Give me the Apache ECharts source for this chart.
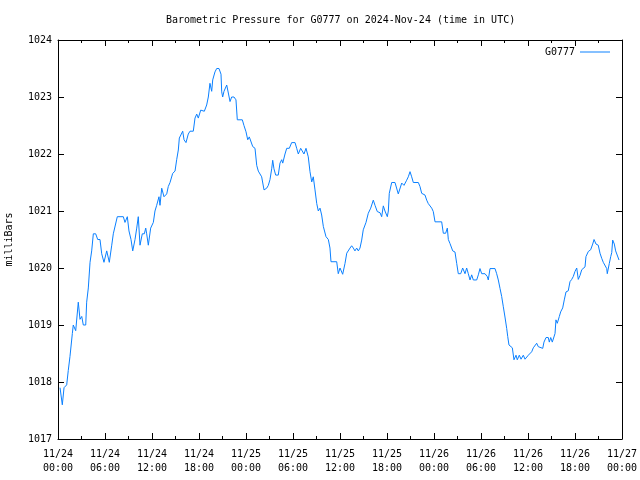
<!DOCTYPE html>
<html>
<head>
<meta charset="utf-8">
<script src="https://cdn.jsdelivr.net/npm/echarts@6/dist/echarts.min.js"></script>
<style>html,body{margin:0;padding:0;background:#fff}#c{width:640px;height:480px}</style>
</head>
<body>
<div id="c"></div>
<script>
const chartTitle = 'Barometric Pressure for G0777 on 2024-Nov-24 (time in UTC)';
const seriesName = 'G0777';
const yAxisName = 'milliBars';
const xTickLabels = ['11/24\n00:00','11/24\n06:00','11/24\n12:00','11/24\n18:00','11/25\n00:00','11/25\n06:00','11/25\n12:00','11/25\n18:00','11/26\n00:00','11/26\n06:00','11/26\n12:00','11/26\n18:00','11/27\n00:00'];
// hours since 2024-11-24 00:00 UTC
const hours = [0.26,0.55,0.77,1.11,1.31,1.53,1.83,1.95,2.26,2.59,2.81,3.03,3.23,3.54,3.66,3.87,4.09,4.30,4.51,4.81,5.07,5.36,5.58,5.87,6.22,6.55,6.86,7.06,7.28,7.57,8.34,8.55,8.85,9.06,9.32,9.54,9.83,10.05,10.25,10.47,10.76,11.02,11.20,11.32,11.53,11.83,12.17,12.38,12.60,12.89,13.02,13.24,13.53,13.88,14.08,14.30,14.64,14.94,15.15,15.36,15.49,15.66,15.92,16.09,16.34,16.63,16.85,17.27,17.49,17.71,17.91,18.22,18.42,18.68,18.98,19.19,19.40,19.62,19.75,20.04,20.26,20.55,20.81,20.90,21.02,21.19,21.54,21.74,21.96,22.17,22.47,22.72,22.89,23.53,23.74,24.00,24.22,24.42,24.60,24.86,25.15,25.37,25.57,25.79,26.00,26.21,26.30,26.43,26.64,26.85,27.06,27.28,27.41,27.57,27.79,28.12,28.34,28.56,28.69,28.98,29.20,29.53,29.83,30.26,30.47,30.68,30.98,31.19,31.40,31.66,31.95,32.17,32.39,32.59,32.81,33.03,33.23,33.45,33.66,33.87,34.21,34.51,34.72,34.85,35.58,35.78,36.00,36.22,36.34,36.64,36.86,37.06,37.28,37.49,37.70,37.91,38.13,38.34,38.55,38.77,38.97,39.32,39.61,39.92,40.25,40.47,40.76,41.11,41.32,41.53,41.74,42.04,42.17,42.29,42.60,43.02,43.24,43.44,43.66,43.88,44.17,44.51,44.72,44.94,45.15,45.36,46.00,46.21,46.43,46.85,47.07,47.27,47.49,47.71,47.91,48.13,48.98,49.19,49.49,49.70,49.83,50.04,50.39,50.68,50.90,51.10,51.41,51.66,51.96,52.17,52.38,52.60,52.81,53.02,53.45,53.66,53.87,54.09,54.51,54.80,54.93,55.15,55.79,56.00,56.21,56.43,56.64,56.85,57.06,57.28,57.41,57.57,57.79,58.00,58.21,58.47,58.63,58.89,59.11,59.40,59.62,59.83,60.04,60.26,60.47,60.68,60.89,61.11,61.31,61.53,61.88,62.04,62.30,62.59,62.72,62.90,63.10,63.23,63.45,63.57,63.74,64.00,64.17,64.43,64.63,64.85,65.14,65.36,65.58,65.78,66.00,66.22,66.42,66.64,66.86,67.06,67.28,67.40,67.70,68.00,68.26,68.43,68.68,68.97,69.19,69.41,69.61,69.83,70.05,70.12,70.38,70.56,70.69,70.81,70.89,71.02,71.19,71.40,71.62];
const pressure = [1017.9,1017.6,1017.9,1017.95,1018.2,1018.45,1018.85,1019.0,1018.9,1019.4,1019.1,1019.15,1019.0,1019.0,1019.4,1019.65,1020.1,1020.3,1020.6,1020.6,1020.5,1020.5,1020.25,1020.1,1020.3,1020.1,1020.4,1020.6,1020.6,1020.9,1020.9,1020.8,1020.9,1020.65,1020.5,1020.3,1020.5,1020.7,1020.9,1020.4,1020.6,1020.6,1020.7,1020.6,1020.4,1020.7,1020.8,1021.0,1021.1,1021.25,1021.1,1021.4,1021.25,1021.3,1021.43,1021.5,1021.66,1021.7,1021.9,1022.07,1022.28,1022.25,1022.4,1022.25,1022.2,1022.35,1022.4,1022.4,1022.63,1022.7,1022.63,1022.77,1022.8,1022.75,1022.86,1023.0,1023.24,1023.1,1023.3,1023.44,1023.5,1023.5,1023.4,1023.09,1023.0,1023.1,1023.21,1023.21,1022.92,1023.0,1023.0,1022.95,1022.6,1022.6,1022.5,1022.39,1022.25,1022.3,1022.28,1022.13,1022.1,1021.8,1021.7,1021.7,1021.6,1021.6,1021.37,1021.34,1021.4,1021.45,1021.55,1021.74,1021.89,1021.74,1021.63,1021.63,1021.84,1021.9,1021.84,1022.0,1022.1,1022.1,1022.2,1022.2,1022.1,1022.0,1022.1,1022.1,1022.0,1022.1,1021.95,1021.69,1021.51,1021.6,1021.37,1021.13,1021.0,1021.05,1020.93,1020.73,1020.55,1020.5,1020.35,1020.11,1020.11,1019.9,1020.0,1019.97,1019.89,1020.08,1020.26,1020.25,1020.35,1020.39,1020.35,1020.3,1020.35,1020.3,1020.35,1020.49,1020.67,1020.8,1020.96,1021.05,1021.19,1021.1,1020.99,1020.97,1020.9,1021.09,1021.0,1020.9,1021.0,1021.31,1021.5,1021.5,1021.49,1021.3,1021.3,1021.49,1021.45,1021.54,1021.6,1021.69,1021.6,1021.5,1021.5,1021.43,1021.31,1021.28,1021.19,1021.13,1021.1,1021.05,1020.99,1020.81,1020.81,1020.61,1020.61,1020.7,1020.5,1020.43,1020.3,1020.28,1020.08,1019.9,1019.9,1020.0,1019.9,1020.0,1019.9,1019.79,1019.88,1019.79,1019.79,1019.88,1019.99,1019.9,1019.9,1019.85,1019.79,1019.99,1019.99,1019.9,1019.79,1019.64,1019.5,1019.32,1019.14,1018.94,1018.8,1018.65,1018.62,1018.6,1018.39,1018.47,1018.39,1018.47,1018.4,1018.47,1018.4,1018.4,1018.47,1018.45,1018.53,1018.6,1018.6,1018.68,1018.62,1018.59,1018.59,1018.7,1018.78,1018.78,1018.7,1018.78,1018.7,1018.68,1018.85,1019.09,1019.03,1019.15,1019.23,1019.3,1019.44,1019.58,1019.6,1019.76,1019.8,1019.85,1019.94,1020.0,1019.8,1019.87,1019.97,1020.0,1020.02,1020.2,1020.29,1020.32,1020.42,1020.5,1020.42,1020.4,1020.26,1020.17,1020.1,1020.08,1019.99,1019.9,1020.08,1020.2,1020.27,1020.49,1020.5,1020.42,1020.3,1020.29,1020.14];

const FONT = 'DejaVu Sans Mono';
const data = hours.map((h, i) => [h, pressure[i]]);
const chart = echarts.init(document.getElementById('c'), null, {renderer: 'canvas'});

const baseX = {
  type: 'value', min: 0, max: 72, interval: 6,
  axisLine: {show: true, onZero: false, lineStyle: {color: '#000', width: 1}},
  axisTick: {show: true, inside: true, length: 6, lineStyle: {color: '#000'}},
  minorTick: {show: true, splitNumber: 2, length: 3, lineStyle: {color: '#000'}},
  splitLine: {show: false}, minorSplitLine: {show: false}
};
const baseY = {
  type: 'value', min: 1017, max: 1024, interval: 1,
  axisLine: {show: true, onZero: false, lineStyle: {color: '#000', width: 1}},
  axisTick: {show: true, inside: true, length: 6, lineStyle: {color: '#000'}},
  splitLine: {show: false}
};

chart.setOption({
  animation: false,
  backgroundColor: '#fff',
  textStyle: {fontFamily: FONT},
  grid: {left: 58, right: 18, top: 40, bottom: 41, containLabel: false, outerBoundsMode: 'none'},
  graphic: [{
    type: 'text', left: 340 - chartTitle.length * 3, top: 15,
    style: {text: chartTitle, fill: '#000', font: '10px "' + FONT + '"'}
  }],
  legend: {
    show: true, right: 25, top: 42, align: 'right', itemWidth: 30, itemHeight: 10,
    itemGap: 6,
    textStyle: {fontFamily: FONT, fontSize: 10, color: '#000'},
    data: [{name: seriesName, icon: 'path://M0,5L30,5L30,6L0,6Z'}]
  },
  xAxis: [
    Object.assign({}, baseX, {
      position: 'bottom',
      axisLabel: {show: true, color: '#000', fontFamily: FONT, fontSize: 10, margin: 8, lineHeight: 14,
        formatter: v => xTickLabels[Math.round(v / 6)] || ''}
    }),
    Object.assign({}, baseX, {position: 'top', axisLabel: {show: false}})
  ],
  yAxis: [
    Object.assign({}, baseY, {
      position: 'left',
      name: yAxisName, nameLocation: 'middle', nameRotate: 90, nameGap: 44,
      nameTextStyle: {color: '#000', fontFamily: FONT, fontSize: 10},
      axisLabel: {show: true, color: '#000', fontFamily: FONT, fontSize: 10, margin: 6,
        formatter: v => String(v)}
    }),
    Object.assign({}, baseY, {position: 'right', axisLabel: {show: false}})
  ],
  series: [{
    name: seriesName, type: 'line', data: data, xAxisIndex: 0, yAxisIndex: 0,
    showSymbol: false, symbol: 'none',
    lineStyle: {color: '#0a80ff', width: 1},
    itemStyle: {color: '#0a80ff'}
  }]
});
</script>
</body>
</html>
